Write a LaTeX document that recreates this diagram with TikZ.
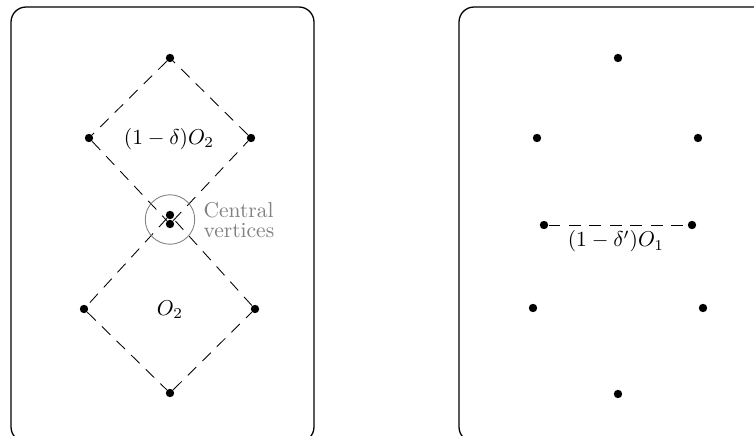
\documentclass[tikz,border=0pt]{standalone}
\usetikzlibrary{calc}
\begin{document}
\begin{tikzpicture}[x=0.465pt,y=-0.465pt,
  dot/.style={circle,fill=black,inner sep=0pt,minimum size=3.9pt},
  frame/.style={draw,line width=0.6pt,rounded corners=7pt},
  dashline/.style={draw,line width=0.4pt,dash pattern=on 5.5pt off 4pt},
  ring/.style={draw=gray,line width=0.4pt,circle,minimum size=23pt,inner sep=0pt},
  grey/.style={text=gray,align=left,font=\normalsize}]
\clip (0,0) rectangle (754,436);
\useasboundingbox (0,0) rectangle (754,436);
% frames
\draw[frame] (11,7) rectangle (314,442);
\draw[frame] (459,7) rectangle (780,442);
% left panel
\node[dot] (t) at (170,58) {};
\node[dot] (l1) at (89,138) {};
\node[dot] (r1) at (251,138) {};
\node[dot] (c1) at (170,215) {};
\node[dot] (c2) at (170,224) {};
\node[dot] (l2) at (84,309) {};
\node[dot] (r2) at (255,309) {};
\node[dot] (b) at (170,393) {};
\draw[dashline] (t) -- (l1) -- (c2) -- (r1) -- (t);
\draw[dashline] (c1) -- (l2) -- (b) -- (r2) -- (c1);
\node (lab1) at (169,139) {$(1-\delta)O_2$};
\node (lab2) at (170,310) {$O_2$};
\node[ring] (ring) at (170,219.5) {};
\node[grey,anchor=west,align=left] (cv) at (196,220) {Central\\[-3pt]vertices};
% right panel
\node[dot] (p1) at (618,58) {};
\node[dot] (p2) at (537,138) {};
\node[dot] (p3) at (698,138) {};
\node[dot] (p4) at (544,225) {};
\node[dot] (p5) at (692,225) {};
\node[dot] (p6) at (533,308) {};
\node[dot] (p7) at (703,308) {};
\node[dot] (p8) at (618,394) {};
\draw[dashline] (p4) -- (p5);
\node (lab3) at (616,241.5) {$(1-\delta')O_1$};
\end{tikzpicture}
\end{document}
